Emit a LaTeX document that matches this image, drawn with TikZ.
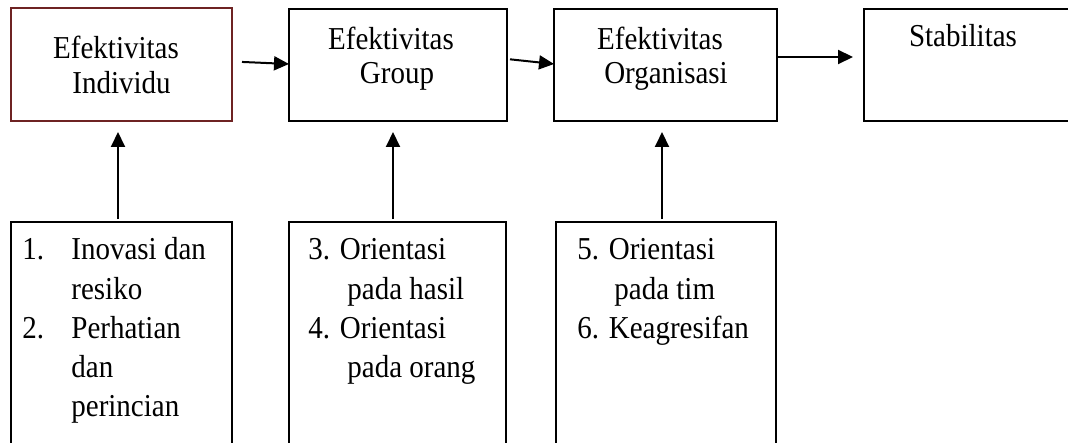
\documentclass[tikz,border=0pt]{standalone}
\usepackage{fontspec}
\usepackage{graphicx}
\setmainfont{Liberation Serif}
\usetikzlibrary{arrows.meta}
\definecolor{maroon}{RGB}{110,35,35}
\newcommand\tallt[1]{\scalebox{1}[1.1]{#1}}
\begin{document}
\begin{tikzpicture}[x=0.5pt,y=-0.5pt,
  box/.style={draw, line width=1pt, rectangle, inner sep=0pt, outer sep=0pt, anchor=north west},
  lbl/.style={inner sep=0pt, font=\fontsize{14.5}{17}\selectfont},
  arr/.style={line width=1pt, -{Triangle[length=7.5pt,width=7pt]}}]
\useasboundingbox (0,0) rectangle (1068,443);
\clip (0,0) rectangle (1068,443);
\fill[white] (0,0) rectangle (1068,443);
% top boxes
\node[box, draw=maroon, minimum width=110.5pt, minimum height=56.5pt] (b1) at (11,8) {};
\node[box, minimum width=109pt, minimum height=56pt] (b2) at (289,9) {};
\node[box, minimum width=111.5pt, minimum height=56pt] (b3) at (554,9) {};
\node[box, minimum width=118pt, minimum height=56pt] (b4) at (864,9) {};
% bottom boxes
\node[box, minimum width=110.5pt, minimum height=124pt] (ba) at (11,222) {};
\node[box, minimum width=108.5pt, minimum height=124pt] (bb) at (289,222) {};
\node[box, minimum width=110pt, minimum height=124pt] (bc) at (556,222) {};
% top texts
\node[lbl, anchor=base] (t1a) at (116,59) {\tallt{Efektivitas}};
\node[lbl, anchor=base] (t1b) at (121.5,94) {\tallt{Individu}};
\node[lbl, anchor=base] (t2a) at (391,50) {\tallt{Efektivitas}};
\node[lbl, anchor=base] (t2b) at (397,84) {\tallt{Group}};
\node[lbl, anchor=base] (t3a) at (660,50) {\tallt{Efektivitas}};
\node[lbl, anchor=base] (t3b) at (666,84) {\tallt{Organisasi}};
\node[lbl, anchor=base] (t4a) at (963,47) {\tallt{Stabilitas}};
% bottom texts
\node[lbl, anchor=base west] (a1n) at (22,259) {\tallt{1.}};
\node[lbl, anchor=base west] (a1) at (71,259) {\tallt{Inovasi dan}};
\node[lbl, anchor=base west] (a2) at (71,299) {\tallt{resiko}};
\node[lbl, anchor=base west] (a3n) at (22,338) {\tallt{2.}};
\node[lbl, anchor=base west] (a3) at (71,338) {\tallt{Perhatian}};
\node[lbl, anchor=base west] (a4) at (71,377) {\tallt{dan}};
\node[lbl, anchor=base west] (a5) at (71,416) {\tallt{perincian}};
\node[lbl, anchor=base west] (c1) at (308,259) {\tallt{3. Orientasi}};
\node[lbl, anchor=base west] (c2) at (347,299) {\tallt{pada hasil}};
\node[lbl, anchor=base west] (c3) at (308,338) {\tallt{4. Orientasi}};
\node[lbl, anchor=base west] (c4) at (347,377) {\tallt{pada orang}};
\node[lbl, anchor=base west] (d1) at (577,259) {\tallt{5. Orientasi}};
\node[lbl, anchor=base west] (d2) at (614,299) {\tallt{pada tim}};
\node[lbl, anchor=base west] (d3) at (577,338) {\tallt{6. Keagresifan}};
% horizontal arrows
\draw[arr, shorten <=5pt] ([yshift=1.5pt]b1.east) -- ([yshift=0.5pt]b2.west);
\draw[arr, shorten <=1.5pt] ([yshift=3pt]b2.east) -- ([yshift=0.5pt]b3.west);
\draw[arr, shorten >=5.5pt] ([yshift=4pt]b3.east) -- ([yshift=4pt]b4.west);
% vertical arrows
\draw[arr, shorten <=1.5pt, shorten >=5.5pt] ([xshift=-1.75pt]ba.north) -- ([xshift=-1.75pt]b1.south);
\draw[arr, shorten <=1.5pt, shorten >=5.5pt] ([xshift=-2.25pt]bb.north) -- ([xshift=-2.5pt]b2.south);
\draw[arr, shorten <=1.5pt, shorten >=5.5pt] ([xshift=-2pt]bc.north) -- ([xshift=-1.75pt]b3.south);
\end{tikzpicture}
\end{document}
